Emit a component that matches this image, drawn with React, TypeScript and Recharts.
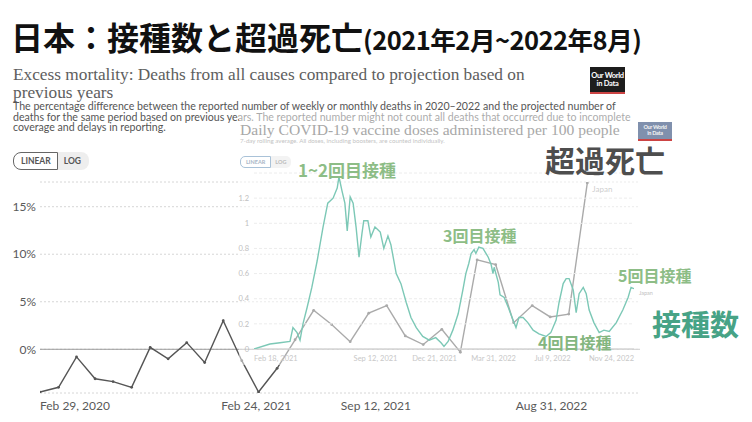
import React from 'react';
import { LineChart, Line, XAxis, YAxis, CartesianGrid, ReferenceLine } from 'recharts';

// Excess mortality, Japan (monthly, % vs projection)
const mortDates = [
  '2020-02-29', '2020-03-31', '2020-04-30', '2020-05-31', '2020-06-30', '2020-07-31',
  '2020-08-31', '2020-09-30', '2020-10-31', '2020-11-30', '2020-12-31', '2021-01-31',
  '2021-02-28', '2021-03-31', '2021-04-30', '2021-05-31', '2021-06-30', '2021-07-31',
  '2021-08-31', '2021-09-30', '2021-10-31', '2021-11-30', '2021-12-31', '2022-01-31',
  '2022-02-28', '2022-03-31', '2022-04-30', '2022-05-31', '2022-06-30', '2022-07-31',
  '2022-08-31',
];
const mortValues = [
  -4.5, -4.0, -0.8, -3.1, -3.4, -4.0,
  0.2, -1.0, 0.7, -1.4, 3.0, -1.2,
  -4.5, -2.0, 1.0, 4.1, 2.6, 0.8,
  3.8, 4.6, 1.4, 0.5, 2.1, -0.3,
  9.4, 8.9, 2.8, 4.6, 3.4, 3.7,
  17.5,
];
const mortTicks = ['2020-02-29', '2021-02-24', '2021-09-12', '2022-08-31'];
const mortTickLabels = ['Feb 29, 2020', 'Feb 24, 2021', 'Sep 12, 2021', 'Aug 31, 2022'];
const mortYTicks = [0, 5, 10, 15];

// Daily vaccine doses per 100 people (7-day average)
const vaxDates = [
  '2021-02-18', '2021-03-17', '2021-04-03', '2021-04-20', '2021-04-25', '2021-05-02',
  '2021-05-07', '2021-05-12', '2021-05-19', '2021-05-27', '2021-06-05', '2021-06-15',
  '2021-06-23', '2021-07-02', '2021-07-09', '2021-07-12', '2021-07-17', '2021-07-22',
  '2021-07-26', '2021-07-31', '2021-08-05', '2021-08-10', '2021-08-15', '2021-08-20',
  '2021-08-23', '2021-08-30', '2021-09-04', '2021-09-11', '2021-09-20', '2021-09-26',
  '2021-10-03', '2021-10-08', '2021-10-17', '2021-10-25', '2021-11-03', '2021-11-11',
  '2021-11-20', '2021-12-01', '2021-12-12', '2021-12-23', '2022-01-01', '2022-01-06',
  '2022-01-13', '2022-01-21', '2022-01-30', '2022-02-07', '2022-02-12', '2022-02-17',
  '2022-02-21', '2022-02-26', '2022-03-01', '2022-03-06', '2022-03-13', '2022-03-22',
  '2022-03-27', '2022-03-30', '2022-04-01', '2022-04-08', '2022-04-11', '2022-04-18',
  '2022-04-25', '2022-05-03', '2022-05-08', '2022-05-13', '2022-05-20', '2022-05-28',
  '2022-06-06', '2022-06-16', '2022-06-28', '2022-07-06', '2022-07-15', '2022-07-20',
  '2022-07-27', '2022-08-01', '2022-08-06', '2022-08-13', '2022-08-18', '2022-08-23',
  '2022-08-30', '2022-09-04', '2022-09-09', '2022-09-17', '2022-09-26', '2022-10-04',
  '2022-10-13', '2022-10-25', '2022-11-05', '2022-11-14', '2022-11-19', '2022-11-24',
];
const vaxValues = [
  0.0, 0.04, 0.05, 0.06, 0.17, 0.13,
  0.07, 0.2, 0.33, 0.49, 0.7, 0.97,
  1.16, 1.2, 1.28, 1.37, 1.26, 1.16,
  0.94, 1.21, 1.16, 0.97, 0.73, 0.92,
  1.02, 1.02, 0.89, 0.97, 0.93, 0.8,
  0.9, 0.83, 0.6, 0.52, 0.37, 0.25,
  0.17, 0.1, 0.07, 0.09, 0.05, 0.02,
  0.06, 0.15, 0.28, 0.47, 0.6, 0.68,
  0.76, 0.79, 0.76, 0.81, 0.8, 0.73,
  0.67, 0.6, 0.65, 0.53, 0.43, 0.41,
  0.33, 0.23, 0.17, 0.25, 0.25, 0.21,
  0.15, 0.12, 0.1, 0.13, 0.23, 0.37,
  0.52, 0.56, 0.56, 0.47, 0.29, 0.44,
  0.49, 0.44, 0.31, 0.21, 0.13, 0.15,
  0.14, 0.21, 0.31, 0.41, 0.49, 0.48,
];
const vaxTicks = ['2021-02-18', '2021-09-12', '2021-12-21', '2022-03-31', '2022-07-09', '2022-11-24'];
const vaxTickLabels = ['Feb 18, 2021', 'Sep 12, 2021', 'Dec 21, 2021', 'Mar 31, 2022', 'Jul 9, 2022', 'Nov 24, 2022'];
const vaxYTicks = [0, 0.2, 0.4, 0.6, 0.8, 1, 1.2];

const ts = (d: string) => Date.parse(d + 'T00:00:00Z');

const mortData = mortDates.map((d, i) => ({ t: ts(d), v: mortValues[i] }));
const vaxData = vaxDates.map((d, i) => ({ t: ts(d), v: vaxValues[i] }));

const JP = '"Noto Sans CJK JP", "Noto Sans", sans-serif';
const LATO = 'Lato, "Noto Sans", sans-serif';
const SERIF = '"Liberation Serif", "DejaVu Serif", serif';

const T = ({ x, y, size, color, weight = 400, font = JP, children, style }: any) => (
  <div
    style={{
      position: 'absolute', left: x, top: y, fontSize: size, color, fontWeight: weight,
      fontFamily: font, lineHeight: 1, whiteSpace: 'nowrap', ...style,
    }}
  >
    {children}
  </div>
);

const makeTick = (ticks: string[], labels: string[], size: number, color: string, dy: string) =>
  (props: any) => {
    const { x, y, payload } = props;
    const i = ticks.findIndex((d) => ts(d) === payload.value);
    const anchor = i === 0 ? 'start' : i === ticks.length - 1 ? 'end' : 'middle';
    return (
      <text x={x} y={y} dy={dy} textAnchor={anchor} fontSize={size} fill={color} fontFamily={LATO}>
        {i >= 0 ? labels[i] : ''}
      </text>
    );
  };

// "Japan" label next to the last point of a series
const endLabel = (count: number, size: number, color: string, dx: number, dy: number) => (props: any) => {
  const { x, y, index } = props;
  if (index !== count - 1) return null;
  return (
    <text x={x + dx} y={y + dy} dy="0.35em" fontSize={size} fill={color} fontFamily={LATO}>
      Japan
    </text>
  );
};

const Logo = ({ x, y, w, h, bg, size, color }: any) => (
  <div
    style={{
      position: 'absolute', left: x, top: y, width: w, height: h, background: bg,
      color, fontFamily: LATO, fontWeight: 700, fontSize: size, lineHeight: 1.05,
      textAlign: 'center', display: 'flex', alignItems: 'center', justifyContent: 'center',
      borderBottom: '2px solid #c44', boxSizing: 'border-box', letterSpacing: -0.3,
    }}
  >
    Our World
    <br />
    in Data
  </div>
);

export default function App() {
  return (
    <div
      style={{
        position: 'absolute', left: 0, top: 0, width: 752, height: 422, background: '#fff',
        overflow: 'hidden',
      }}
    >
      {/* main title */}
      <T x={11} y={20} size={32} color="#111" weight={700}>
        日本：接種数と超過死亡
        <span style={{ fontSize: 25.5, letterSpacing: -0.5 }}>(2021年2月~2022年8月)</span>
      </T>

      {/* excess mortality chart header */}
      <T x={13} y={66} size={17.3} color="#5e5e5e" font={SERIF}>
        Excess mortality: Deaths from all causes compared to projection based on
      </T>
      <T x={13} y={83.5} size={17.3} color="#5e5e5e" font={SERIF}>
        previous years
      </T>
      <T x={13} y={101} size={10.6} color="#555" font={LATO} style={{ lineHeight: '10.5px' }}>
        The percentage difference between the reported number of weekly or monthly deaths in 2020–2022 and the projected number of
        <br />
        deaths for the same period based on previous years. The reported number might not count all deaths that occurred due to incomplete
        <br />
        coverage and delays in reporting.
      </T>
      <Logo x={590} y={67} w={35} h={27} bg="#1d1d1d" size={7.5} color="#fff" />

      {/* LINEAR / LOG */}
      <div style={{ position: 'absolute', left: 13, top: 152, display: 'flex', fontFamily: LATO, fontSize: 8.5, fontWeight: 700, color: '#555' }}>
        <div style={{ border: '1px solid #666', borderRadius: '8px 0 0 8px', padding: '3px 6px 3px 7px' }}>LINEAR</div>
        <div style={{ background: '#eee', borderRadius: '0 8px 8px 0', padding: '4px 8px 3px 6px' }}>LOG</div>
      </div>

      <div style={{ position: 'absolute', left: 0, top: 0 }}>
        <LineChart width={752} height={422} data={mortData} margin={{ top: 182, right: 112, bottom: 9, left: 10 }}>
          <CartesianGrid vertical={false} stroke="#d6d6d6" strokeDasharray="2 2" />
          <XAxis
            dataKey="t"
            type="number"
            scale="time"
            domain={[ts('2020-02-29'), ts('2022-11-27')]}
            ticks={mortTicks.map(ts)}
            interval={0}
            tick={makeTick(mortTicks, mortTickLabels, 12, '#5a5a5a', '0.75em')}
            axisLine={false}
            tickLine={false}
            height={20}
            allowDataOverflow
          />
          <YAxis
            type="number"
            domain={[-4.6, 17.6]}
            ticks={mortYTicks}
            interval={0}
            tickFormatter={(v) => `${v}%`}
            tick={{ fontSize: 12, fill: '#5a5a5a', fontFamily: LATO }}
            axisLine={false}
            tickLine={false}
            tickSize={0}
            tickMargin={4}
            width={30}
            allowDataOverflow
          />
          <ReferenceLine y={0} stroke="#9a9a9a" />
          <Line
            dataKey="v"
            type="linear"
            stroke="#555"
            strokeWidth={1.4}
            dot={{ r: 1.4, fill: '#555', stroke: 'none' }}
            isAnimationActive={false}
            label={endLabel(mortData.length, 8, '#9a9a9a', 5, 6)}
          />
        </LineChart>
      </div>

      {/* faded overlay of pasted vaccine chart */}
      <div style={{ position: 'absolute', left: 239, top: 112, width: 436, height: 253, background: 'rgba(255,255,255,0.5)' }} />

      {/* vaccine chart header */}
      <T x={240} y={122} size={15.6} color="#a8a8a8" font={SERIF}>
        Daily COVID-19 vaccine doses administered per 100 people
      </T>
      <T x={240} y={138} size={6.2} color="#c4c4c4" font={LATO}>
        7-day rolling average. All doses, including boosters, are counted individually.
      </T>
      <Logo x={638} y={122} w={34} h={19} bg="#8090ad" size={5.5} color="#f4f4f4" />
      <div style={{ position: 'absolute', left: 240, top: 156, display: 'flex', fontFamily: LATO, fontSize: 5.5, fontWeight: 700, color: '#a9b6c6' }}>
        <div style={{ border: '1px solid #a9c2d8', borderRadius: '5px 0 0 5px', padding: '2px 5px' }}>LINEAR</div>
        <div style={{ background: '#f3f3f3', borderRadius: '0 5px 5px 0', padding: '3px 5px 2px 4px', color: '#bbb' }}>LOG</div>
      </div>

      <div style={{ position: 'absolute', left: 0, top: 0 }}>
        <LineChart width={752} height={422} data={vaxData} margin={{ top: 173, right: 118, bottom: 53, left: 234 }}>
          <CartesianGrid vertical={false} stroke="#ececec" strokeDasharray="3 2" />
          <XAxis
            dataKey="t"
            type="number"
            scale="time"
            domain={[ts('2021-02-18'), ts('2022-11-24')]}
            ticks={vaxTicks.map(ts)}
            interval={0}
            tick={makeTick(vaxTicks, vaxTickLabels, 7.5, '#c8c8c8', '0.55em')}
            axisLine={false}
            tickLine={false}
            height={20}
            allowDataOverflow
          />
          <YAxis
            type="number"
            domain={[0, 1.4]}
            ticks={vaxYTicks}
            interval={0}
            tick={{ fontSize: 7.5, fill: '#c0c0c0', fontFamily: LATO }}
            axisLine={false}
            tickLine={false}
            tickSize={0}
            tickMargin={5}
            width={20}
            allowDataOverflow
          />
          <ReferenceLine y={0} stroke="#cfcfcf" />
          <Line
            dataKey="v"
            type="linear"
            stroke="#7cc8b6"
            strokeWidth={1.4}
            dot={false}
            isAnimationActive={false}
            label={endLabel(vaxData.length, 5.5, '#c2c2c2', 5, 4)}
          />
        </LineChart>
      </div>

      {/* annotations */}
      <T x={298} y={161} size={17} color="#8dbd86" weight={700}>1~2回目接種</T>
      <T x={545} y={144} size={30} color="#4e4e4e" weight={700}>超過死亡</T>
      <T x={443} y={227} size={16} color="#8dbd86" weight={700}>3回目接種</T>
      <T x={618} y={267} size={16} color="#8dbd86" weight={700}>5回目接種</T>
      <T x={538} y={334} size={16} color="#84b67f" weight={700}>4回目接種</T>
      <T x={652} y={309} size={29} color="#47a386" weight={700}>接種数</T>
    </div>
  );
}
